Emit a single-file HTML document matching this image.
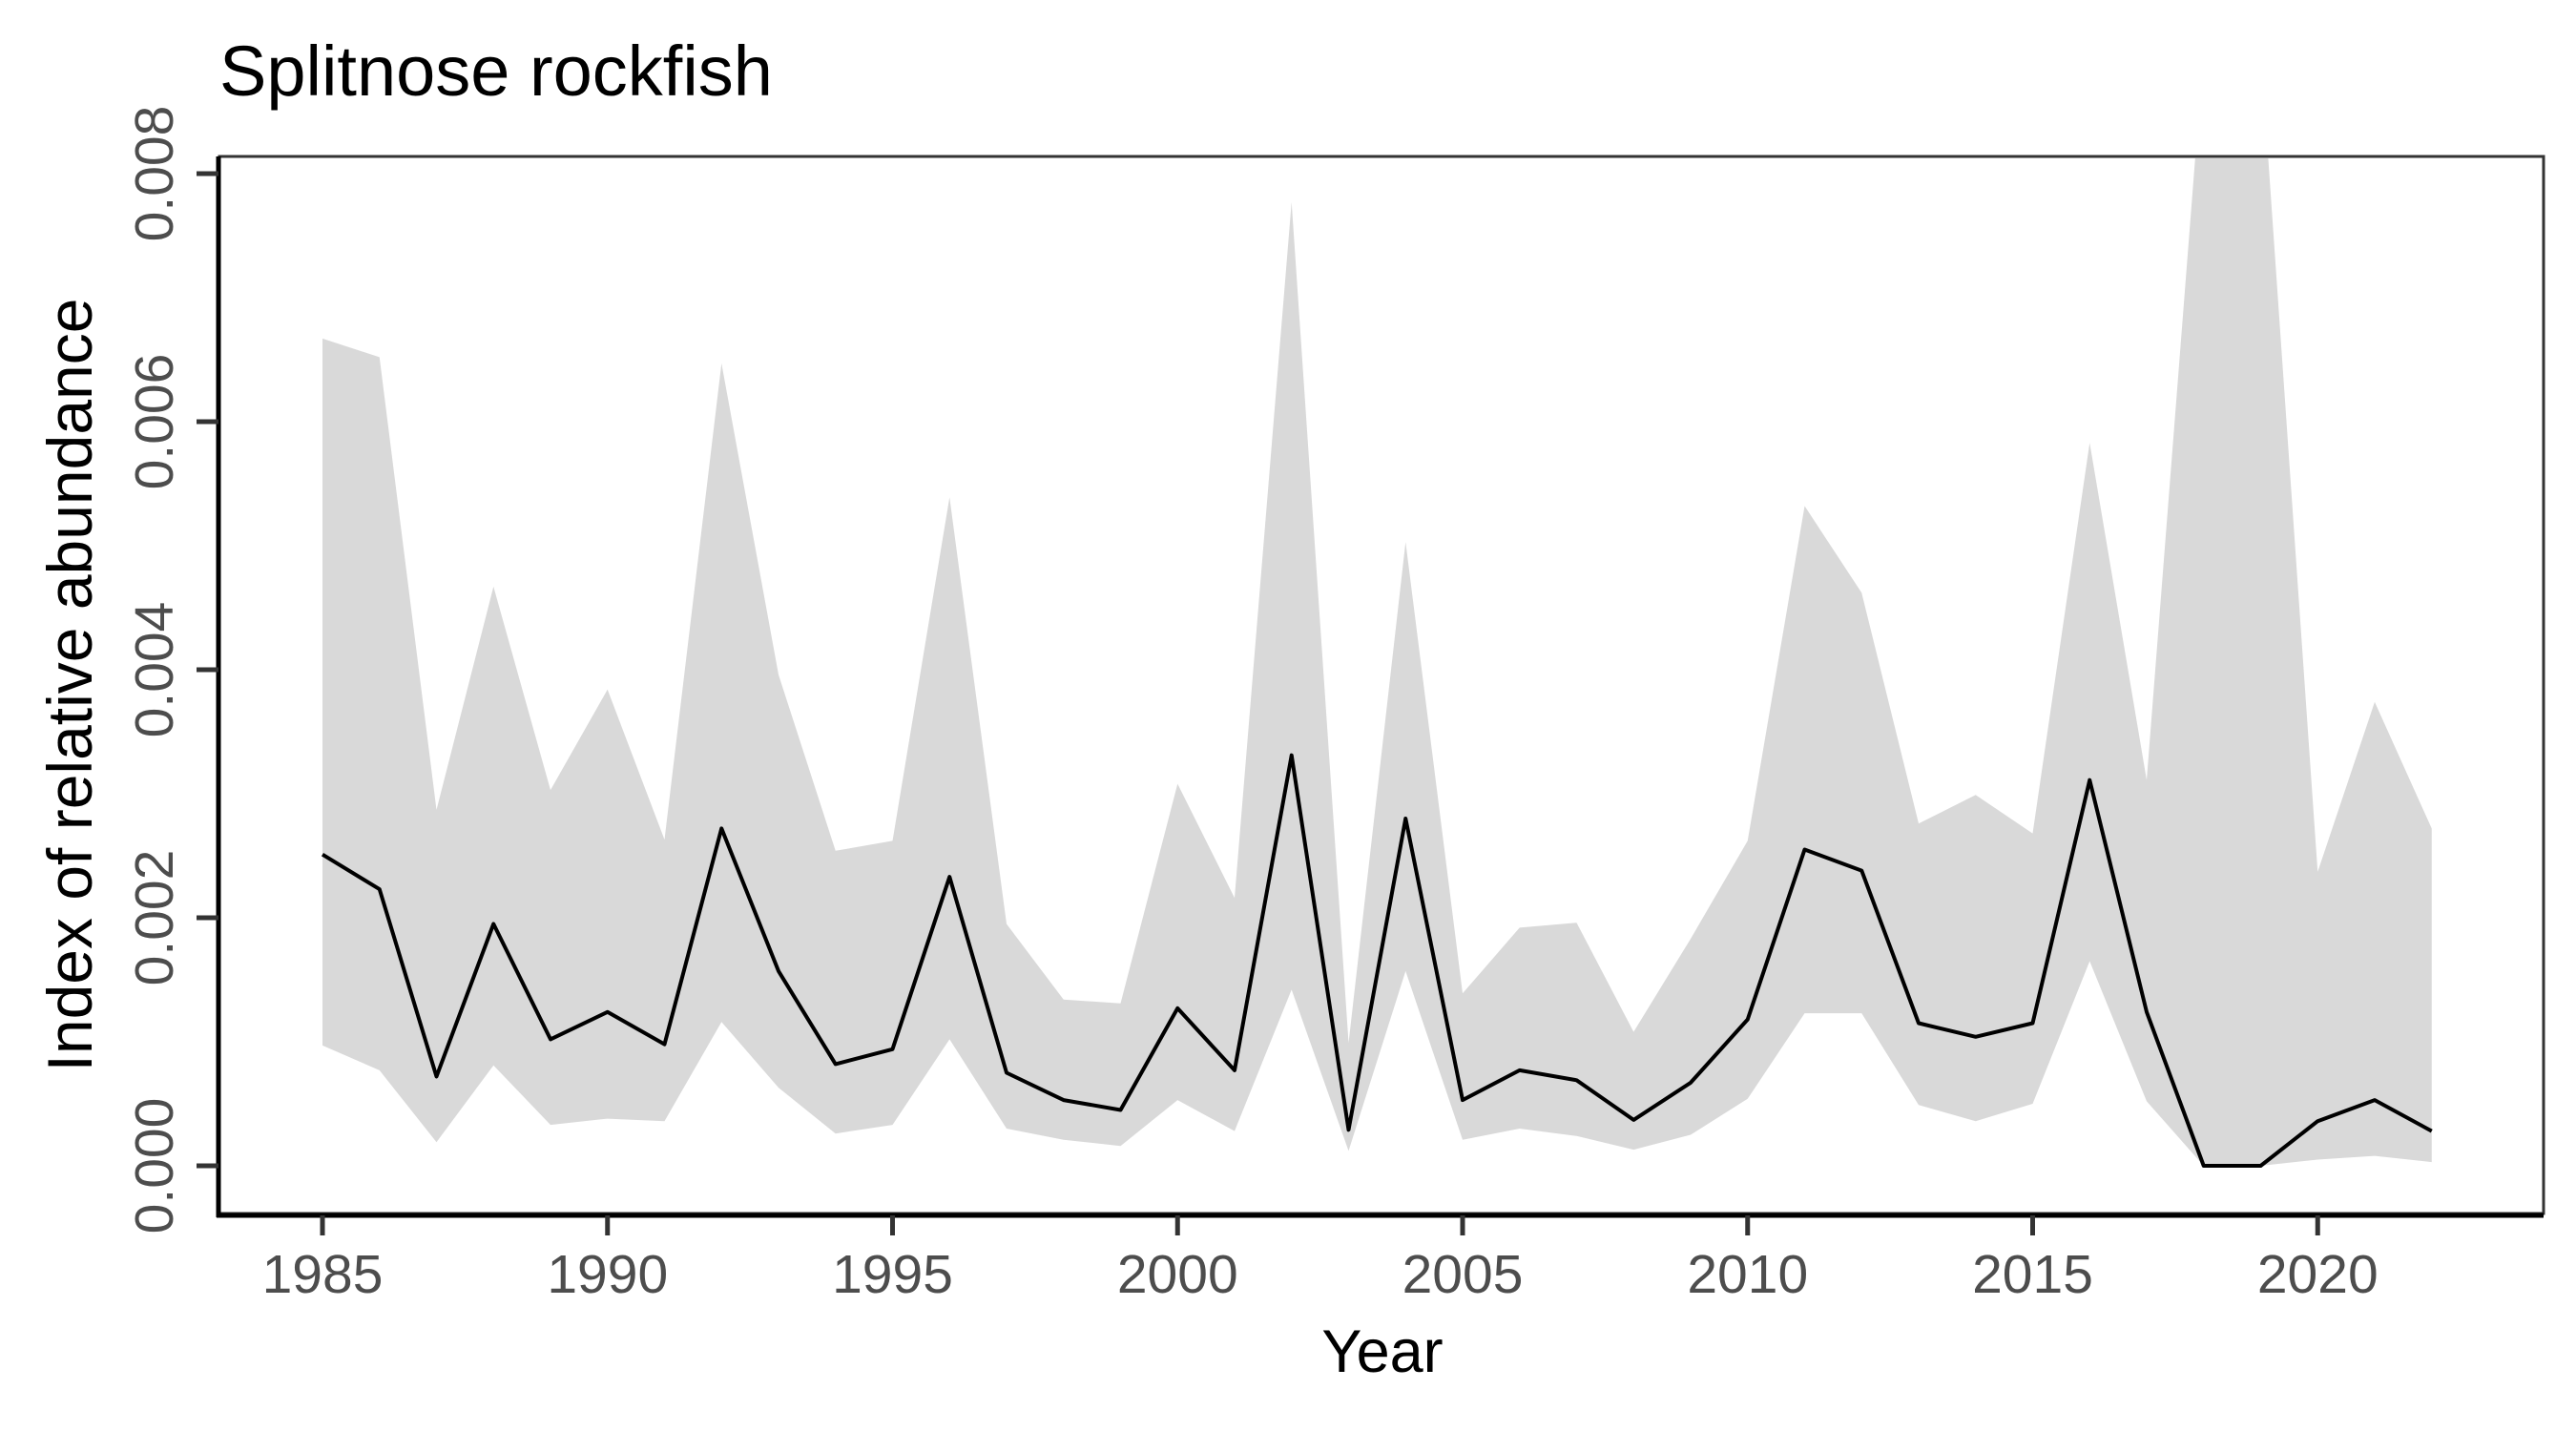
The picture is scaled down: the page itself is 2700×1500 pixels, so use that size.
<!DOCTYPE html>
<html><head><meta charset="utf-8"><style>
html,body{margin:0;padding:0;background:#fff}
svg{display:block;font-family:"Liberation Sans",sans-serif}
</style></head><body>
<svg id="chart" width="2700" height="1500" viewBox="0 0 2700 1500">
<defs><clipPath id="pclip"><rect x="231" y="166" width="2433" height="1105"/></clipPath></defs>
<text x="230" y="100" font-size="74" fill="#000">Splitnose rockfish</text>
<g id="plot" clip-path="url(#pclip)"></g>
<rect x="230" y="164" width="2436" height="1108" fill="none" stroke="#333" stroke-width="3"/>
<line x1="229" y1="164" x2="229" y2="1276" stroke="#000" stroke-width="5"/>
<line x1="227" y1="1274" x2="2666" y2="1274" stroke="#000" stroke-width="5"/>
<g id="axes"></g>
<text x="1449" y="1438" font-size="63" text-anchor="middle" fill="#000">Year</text>
<text transform="translate(96,718) rotate(-90)" font-size="66" text-anchor="middle" fill="#000">Index of relative abundance</text>
</svg>
<script>
const years = [1985,1986,1987,1988,1989,1990,1991,1992,1993,1994,1995,1996,1997,1998,1999,2000,2001,2002,2003,2004,2005,2006,2007,2008,2009,2010,2011,2012,2013,2014,2015,2016,2017,2018,2019,2020,2021,2022];
const estimate = [0.00251,0.00223,0.00072,0.00195,0.00102,0.00124,0.00098,0.00272,0.00157,0.00082,0.00094,0.00233,0.00075,0.00053,0.00045,0.00127,0.00077,0.00331,0.00029,0.0028,0.00053,0.00077,0.00069,0.00037,0.00067,0.00118,0.00255,0.00238,0.00115,0.00104,0.00115,0.00311,0.00124,0,0,0.00036,0.00053,0.00028];
const upper = [0.00667,0.00652,0.00287,0.00467,0.00303,0.00384,0.00263,0.00647,0.00396,0.00254,0.00262,0.00539,0.00195,0.00134,0.00131,0.00308,0.00216,0.00777,0.00099,0.00503,0.00139,0.00192,0.00196,0.00108,0.00183,0.00262,0.00532,0.00462,0.00276,0.00299,0.00268,0.00583,0.00311,0.009,0.009,0.00237,0.00374,0.00272];
const lower = [0.00097,0.00077,0.00019,0.00081,0.00033,0.00038,0.00036,0.00116,0.00063,0.00026,0.00033,0.00102,0.0003,0.00021,0.00016,0.00053,0.00028,0.00142,0.00012,0.00157,0.00021,0.0003,0.00024,0.00013,0.00025,0.00054,0.00123,0.00123,0.00049,0.00036,0.0005,0.00165,0.00052,0,0,0.00005,0.00008,0.00003];
const xTicks = [1985,1990,1995,2000,2005,2010,2015,2020];
const yTicks = [0,0.002,0.004,0.006,0.008];
const yTickLabels = ["0.000","0.002","0.004","0.006","0.008"];

const NS="http://www.w3.org/2000/svg";
function xs(v){return 338+(v-1985)*59.75;}
function ys(v){return 1222-v*130000;}
const plot=document.getElementById('plot');
const axes=document.getElementById('axes');

let pts=years.map((y,i)=>xs(y)+','+ys(upper[i]));
for(let i=years.length-1;i>=0;i--)pts.push(xs(years[i])+','+ys(lower[i]));
const band=document.createElementNS(NS,'polygon');
band.setAttribute('points',pts.join(' '));
band.setAttribute('fill','#d9d9d9');


plot.appendChild(band);

const line=document.createElementNS(NS,'polyline');
line.setAttribute('points',years.map((y,i)=>xs(y)+','+ys(estimate[i])).join(' '));
line.setAttribute('fill','none');line.setAttribute('stroke','#000');line.setAttribute('stroke-width','4');
line.setAttribute('stroke-linejoin','round');


plot.appendChild(line);

xTicks.forEach(t=>{
  const tk=document.createElementNS(NS,'line');
  tk.setAttribute('x1',xs(t));tk.setAttribute('x2',xs(t));tk.setAttribute('y1',1274);tk.setAttribute('y2',1295);
  tk.setAttribute('stroke','#333');tk.setAttribute('stroke-width','5');
  
  
  axes.appendChild(tk);
  const tx=document.createElementNS(NS,'text');
  tx.setAttribute('x',xs(t));tx.setAttribute('y',1355);tx.setAttribute('text-anchor','middle');
  tx.setAttribute('font-size','57');tx.setAttribute('fill','#4d4d4d');tx.textContent=t;
  
  
  axes.appendChild(tx);
});
yTicks.forEach((t,i)=>{
  const tk=document.createElementNS(NS,'line');
  tk.setAttribute('x1',206);tk.setAttribute('x2',229);tk.setAttribute('y1',ys(t));tk.setAttribute('y2',ys(t));
  tk.setAttribute('stroke','#333');tk.setAttribute('stroke-width','5');
  
  
  axes.appendChild(tk);
  const tx=document.createElementNS(NS,'text');
  tx.setAttribute('transform','translate(181,'+ys(t)+') rotate(-90)');tx.setAttribute('text-anchor','middle');
  tx.setAttribute('font-size','57');tx.setAttribute('fill','#4d4d4d');tx.textContent=yTickLabels[i];
  
  
  axes.appendChild(tx);
});
</script>
</body></html>
